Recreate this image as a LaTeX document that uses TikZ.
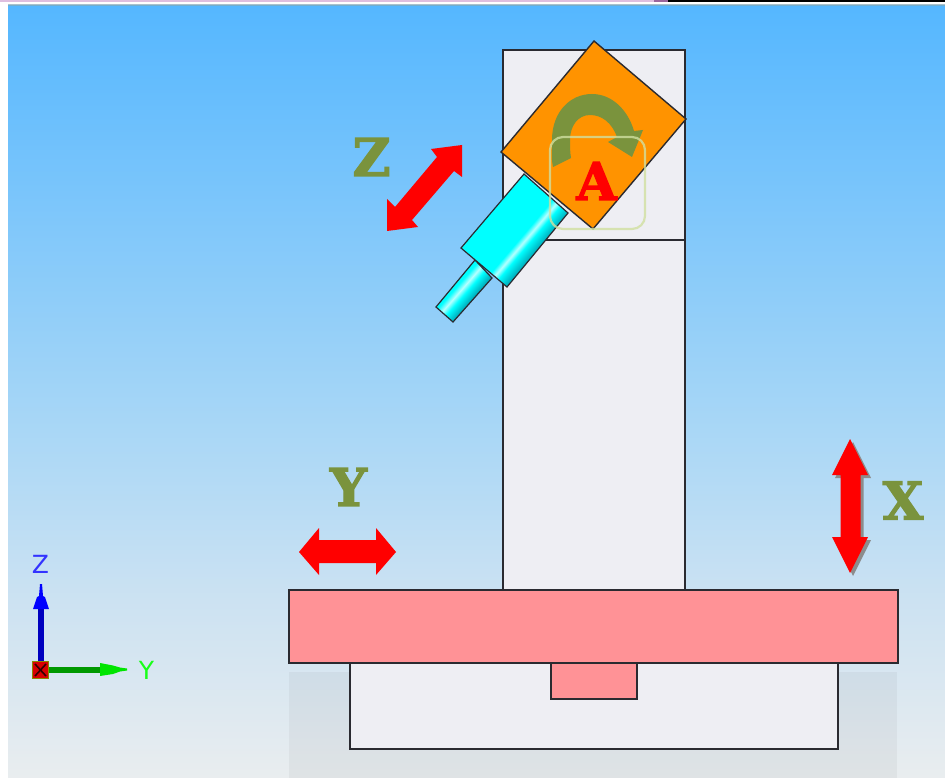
\documentclass[tikz,border=0pt]{standalone}
\usepackage{fontspec}
\newfontfamily\fatfont{DejaVu Serif Bold}[FakeBold=2.5]
\newfontfamily\axisfont{DejaVu Sans}
\definecolor{olivearm}{HTML}{7A933D}
\definecolor{partgrey}{HTML}{EEEEF3}
\definecolor{tablered}{HTML}{FF9296}
\definecolor{headorange}{HTML}{FF9300}
\definecolor{edge}{HTML}{2A2A30}
\definecolor{bgA}{HTML}{55B7FF}
\definecolor{bgB}{HTML}{A9D7F6}
\definecolor{bgC}{HTML}{CCE2F2}
\definecolor{bgD}{HTML}{E9EDEF}
\definecolor{cylhi}{HTML}{B8FFFF}
\definecolor{cyldk}{HTML}{00A8B8}
\definecolor{roundbox}{HTML}{D0DFA0}
\pgfdeclarehorizontalshading{cylbig}{100bp}{color(0bp)=(cyan);color(52.2bp)=(cyan);color(53.5bp)=(cylhi);color(54.7bp)=(cyan);color(57.5bp)=(cyldk);color(100bp)=(cyldk)}
\pgfdeclarehorizontalshading{cylsmall}{100bp}{color(0bp)=(cyan);color(45.5bp)=(cyan);color(48.3bp)=(cylhi);color(51bp)=(cyan);color(55.7bp)=(cyldk);color(100bp)=(cyldk)}
\tikzset{
  partbox/.style={draw=edge,line width=1.4pt,line join=miter},
  greypart/.style={partbox,fill=partgrey},
  redpart/.style={partbox,fill=tablered},
  motion/.style={fill=red,draw=none},
  motionshadow/.style={fill=black!45!white,draw=none},
  axisname/.style={font=\fatfont\fontsize{52}{52}\selectfont,text=olivearm,inner sep=0pt},
  triadname/.style={font=\axisfont\fontsize{25}{25}\selectfont,inner sep=0pt},
}
\begin{document}
\begin{tikzpicture}[x=1pt,y=-1pt]
\useasboundingbox (0,0) rectangle (945,778);
% page and viewport
\fill[white] (0,0) rectangle (945,778);
\fill[black] (668,0) rectangle (945,2);
\fill[black!30!violet!60!white] (654,0) rectangle (668,2);
\fill[violet!25!white] (0,0) rectangle (654,2);
\shade[top color=bgA,bottom color=bgB,draw=none] (8,6) rectangle (945,430);
\shade[top color=bgB,bottom color=bgC,draw=none] (8,430) rectangle (945,600);
\shade[top color=bgC,bottom color=bgD,draw=none] (8,600) rectangle (945,778);
\fill[black!50!cyan!60!white,opacity=.7] (8,4) rectangle (945,6);
\fill[black,opacity=.04] (289,672) rectangle (897,778);
% machine
\draw[greypart] (503,50) rectangle (685,240);
\draw[greypart] (503,240) rectangle (685,590);
\draw[greypart] (350,663) rectangle (838,749);
\draw[redpart] (551,663) rectangle (637,699);
\draw[redpart] (289,590) rectangle (898,663);
% tool
\begin{scope}
\clip (475,260) -- (436,307) -- (453,322) -- (492,278) -- cycle;
\shade[shading=cylsmall,shading angle=-41] (414.5,241) rectangle (514.5,341);
\end{scope}
\draw[draw=edge,line width=1.2pt] (475,260) -- (436,307) -- (453,322) -- (492,278) -- cycle;
\begin{scope}
\clip (524,174) -- (461,248) -- (507,287) -- (568,213) -- cycle;
\shade[shading=cylbig,shading angle=-40.3] (415,130.5) rectangle (615,330.5);
\end{scope}
\draw[draw=edge,line width=1.2pt] (524,174) -- (461,248) -- (507,287) -- (568,213) -- cycle;
\draw[partbox,fill=headorange] (594,41) -- (686,119) -- (593,229) -- (501,152) -- cycle;
% rotation arrow
\fill[olivearm] (553,167) .. controls (551,158) and (552,148) .. (552,140)
  .. controls (552,112) and (570,94) .. (592,94)
  .. controls (612,94) and (628,110) .. (634,131)
  -- (643,130) -- (632,157) -- (608,142) -- (617,137)
  .. controls (612,123) and (602,115) .. (590,115)
  .. controls (578,115) and (570,126) .. (570,140)
  .. controls (570,146) and (570,152) .. (571,158) -- cycle;
\node[name=labelA,font=\fatfont\fontsize{52}{52}\selectfont,text=red,inner sep=0pt] at (596.5,181) {A};
\draw[draw=roundbox,opacity=.8,line width=2.2pt,rounded corners=13pt] (550,137) rectangle (645,229);
% motion arrows
\fill[motionshadow] (853,442) -- (871,478) -- (863.5,478) -- (863.5,540) -- (871,540) -- (853,576) -- (835,540) -- (843.6,540) -- (843.6,478) -- (835,478) -- cycle;
\fill[motion] (850,439) -- (868,475) -- (860.5,475) -- (860.5,537) -- (868,537) -- (850,573) -- (832,537) -- (840.6,537) -- (840.6,475) -- (832,475) -- cycle;
\fill[motion] (299,552) -- (319,528) -- (319,540) -- (376,540) -- (376,528) -- (396,552) -- (376,575) -- (376,563) -- (319,563) -- (319,575) -- cycle;
\fill[motion] (462,145) -- (462,177) -- (454,171) -- (412,220) -- (418,227) -- (387,231) -- (387,199) -- (395,207) -- (437,157) -- (431,149) -- cycle;
\node[name=labelZ,axisname] at (371.5,157) {Z};
\node[name=labelY,axisname] at (348.5,487) {Y};
\node[name=labelX,axisname] at (903,500.5) {X};
% axis triad
\fill[blue!75!black] (37.7,609) rectangle (44.3,662);
\fill[blue] (40,584) -- (42,584) -- (43,596) -- (45,597) -- (49,609) -- (33,609) -- (37,597) -- (39,596) -- cycle;
\fill[green!60!black] (49,666.5) rectangle (101,673);
\fill[green!90!black] (100,663) -- (113,665.5) -- (120,667.5) -- (127,668.5) -- (127,670.5) -- (120,671.5) -- (113,674) -- (100,676) -- cycle;
\draw[draw=olive,fill=red!85!black,line width=.8pt] (32.5,661.5) rectangle (48.5,678.5);
\draw[black!80!red,line width=1.6pt] (35,664) -- (46,676) (46,664) -- (35,676);
\node[name=triadZ,triadname,text=blue!80!white] at (40.5,564) {Z};
\node[name=triadY,triadname,text=green!90!white] at (146.5,670) {Y};
\end{tikzpicture}
\end{document}
